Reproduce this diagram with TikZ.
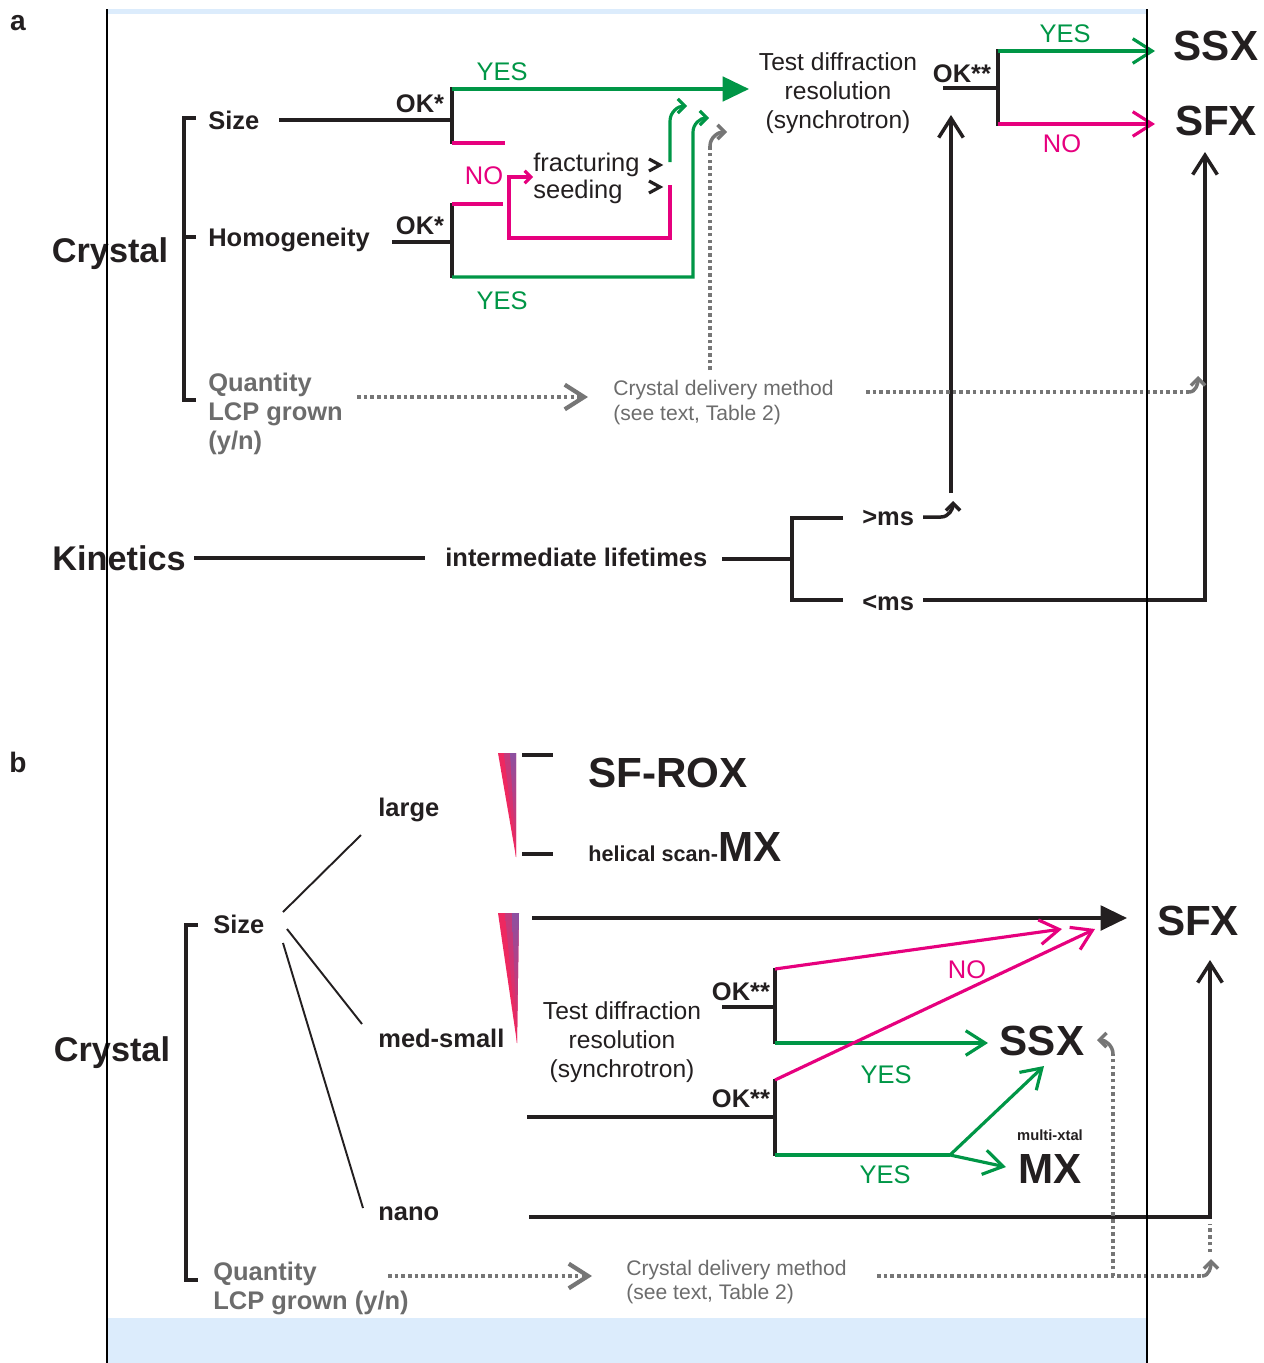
\documentclass[tikz,border=0pt]{standalone}
\usepackage{fontspec}
\setmainfont{Liberation Sans}
\usetikzlibrary{arrows.meta}

\definecolor{ink}{RGB}{35,31,32}
\definecolor{yesgreen}{RGB}{0,150,70}
\definecolor{nopink}{RGB}{230,0,126}
\definecolor{dotgray}{RGB}{118,118,118}
\definecolor{textgray}{RGB}{108,108,108}
\definecolor{bandblue}{RGB}{220,236,252}
\definecolor{wedgepink}{RGB}{238,40,96}
\definecolor{wedgepurple}{RGB}{140,80,160}

\begin{document}
\begin{tikzpicture}[
    x=0.02cm, y=-0.02cm,
    every node/.style={inner sep=0pt, text=ink},
    lbl/.style={font=\fontsize{14.5}{17}\selectfont\bfseries, anchor=base west},
    lblc/.style={lbl, anchor=base},
    bigname/.style={font=\fontsize{24}{28}\selectfont\bfseries, anchor=base},
    mainlbl/.style={font=\fontsize{19.5}{23}\selectfont\bfseries, anchor=base},
    panel/.style={font=\fontsize{16}{18}\selectfont\bfseries, anchor=base},
    testtxt/.style={font=\fontsize{14}{16.3}\selectfont, align=center},
    plaintxt/.style={font=\fontsize{14.5}{17}\selectfont, anchor=base west},
    yeslbl/.style={font=\fontsize{14.5}{17}\selectfont, text=yesgreen, anchor=base},
    nolbl/.style={font=\fontsize{14.5}{17}\selectfont, text=nopink, anchor=base},
    qty/.style={lbl, text=textgray},
    deliv/.style={font=\fontsize{12}{14}\selectfont, text=textgray, anchor=base west},
    wire/.style={draw=ink, line width=2pt},
    thinwire/.style={draw=ink, line width=1.1pt},
    chev/.style={draw=ink, line width=1.8pt},
    yesline/.style={draw=yesgreen, line width=1.8pt},
    noline/.style={draw=nopink, line width=1.8pt},
    dotline/.style={draw=dotgray, line width=2.4pt, dash pattern=on 2pt off 1.8pt},
    dotcurl/.style={draw=dotgray, line width=2pt, -{Straight Barb[length=4pt, width=8pt]}},
    bigtip/.style={-{Triangle[length=15pt, width=14pt]}},
    barbtip/.style={-{Straight Barb[length=11pt, width=14pt]}},
    curltip/.style={-{Straight Barb[length=4pt, width=8pt]}},
  ]
  \useasboundingbox (0,0) rectangle (1264,1363);
  \fill[bandblue] (108,9) rectangle (1147,14);
  \fill[bandblue] (108,1318) rectangle (1147,1363);

  % --- Panel a: crystal properties ---
  \node[panel] (labA) at (18,30) {a};
  \node[mainlbl] (crysA) at (110,262) {Crystal};
  \draw[wire] (196,118) -- (184,118) -- (184,400) -- (196,400);
  \draw[wire] (184,237) -- (196,237);
  \node[lbl] (sizeA) at (208,129) {Size};
  \node[lbl] (homA) at (208,246) {Homogeneity};
  \node[qty] (qtyA) at (208,391) {Quantity};
  \node[qty] (lcpA) at (208,420) {LCP grown};
  \node[qty] (ynA) at (208,449) {(y/n)};

  % size and homogeneity checks
  \coordinate (jA1) at (452,120);
  \coordinate (jA2) at (452,242);
  \node[lblc] (okA1) at (420,112) {OK*};
  \node[lblc] (okA2) at (420,234) {OK*};
  \draw[wire] (279,120) -- (jA1);
  \draw[wire] (452,87) -- (452,144);
  \draw[wire] (392,242) -- (jA2);
  \draw[wire] (452,203) -- (452,278);
  \draw[yesline, bigtip] (452,89) -- (749,89);
  \node[yeslbl] (yesA1) at (502,80) {YES};
  \draw[noline] (452,143) -- (505,143);
  \draw[noline] (452,204) -- (503,204);
  \node[nolbl] (noA) at (484,184) {NO};
  \draw[noline, -{Straight Barb[length=3.5pt, width=7pt]}]
    (670,185) -- (670,238) -- (509,238) -- (509,177) -- (533,177);
  \node[plaintxt] (fracA) at (533,171) {fracturing};
  \node[plaintxt] (seedA) at (533,198) {seeding};
  \draw[chev] (649,159) -- (660,165) -- (649,171);
  \draw[chev] (649,181) -- (660,187) -- (649,193);
  \draw[yesline, curltip] (670,162) -- (670,121) to[out=90, in=180] (687,106);
  \draw[yesline, curltip] (452,277) -- (693,277) -- (693,132) to[out=90, in=180] (709,118);
  \node[yeslbl] (yesA2) at (502,309) {YES};
  \coordinate (curlA1) at (710,146);
  \draw[dotline] (710,370) -- (curlA1);
  \draw[dotcurl] (curlA1) to[out=90, in=180] (727,132);

  % --- Panel a: diffraction test ---
  \node[testtxt] (testA) at (838,93) {Test diffraction\\resolution\\(synchrotron)};
  \node[lblc] (okA3) at (962,82) {OK**};
  \draw[wire] (943,88) -- (998,88);
  \draw[wire] (998,49) -- (998,126);
  \draw[yesline, barbtip] (998,51) -- (1155,51);
  \node[yeslbl] (yesA3) at (1065,42) {YES};
  \draw[noline, barbtip] (998,124) -- (1155,124);
  \node[nolbl] (noA3) at (1062,152) {NO};
  \node[bigname] (ssxA) at (1216,60) {SSX};
  \node[bigname] (sfxA) at (1216,135) {SFX};

  % --- Panel a: kinetics ---
  \node[mainlbl, anchor=base west] (kinA) at (52,570) {Kinetics};
  \node[lbl] (lifeA) at (445,566) {intermediate lifetimes};
  \draw[wire] (194,558) -- (425,558);
  \draw[wire] (722,559) -- (792,559);
  \draw[wire] (843,518) -- (792,518) -- (792,600) -- (843,600);
  \node[lbl] (slowA) at (862,525) {>ms};
  \node[lbl] (fastA) at (862,610) {<ms};
  \draw[wire, curltip] (923,517) -- (941,517) to[out=0, in=-90] (953,501);
  \draw[wire, barbtip] (951,493) -- (951,115);
  \draw[wire, barbtip] (923,600) -- (1205,600) -- (1205,152);

  % --- Panel a: delivery ---
  \draw[dotline, barbtip] (357,397) -- (588,397);
  \node[deliv] (delA1) at (613,395) {Crystal delivery method};
  \node[deliv] (delA2) at (613,420) {(see text, Table 2)};
  \coordinate (curlA2) at (1189,392);
  \draw[dotline] (866,392) -- (curlA2);
  \draw[dotcurl] (curlA2) to[out=0, in=-90] (1198,376);

  % --- Panel b: crystal size ---
  \node[panel] (labB) at (18,772) {b};
  \node[mainlbl] (crysB) at (112,1061) {Crystal};
  \draw[wire] (198,925) -- (186,925) -- (186,1280) -- (198,1280);
  \node[lbl] (sizeB) at (213,933) {Size};
  \node[lbl] (largeB) at (378,816) {large};
  \node[lbl] (medB) at (378,1047) {med-small};
  \node[lbl] (nanoB) at (378,1220) {nano};
  \draw[thinwire] (283,912) -- (361,835);
  \draw[thinwire] (287,929) -- (362,1024);
  \draw[thinwire] (283,943) -- (363,1208);

  % size wedges: pink left, purple towards the top right
  \foreach \ya/\yb/\xa/\xb/\xt in {753/857/498/516/516, 913/1043/498/519/517} {
    \pgfmathsetmacro\xm{\xa+(\xb-\xa)/3}
    \pgfmathsetmacro\xn{\xa+2*(\xb-\xa)/3}
    \fill[wedgepink] (\xa,\ya) -- (\xb,\ya) -- (\xt,\yb) -- cycle;
    \shade[top color=wedgepink!55!wedgepurple, bottom color=wedgepink]
      (\xm,\ya) -- (\xn+0.6,\ya) -- (\xt,\yb) -- cycle;
    \shade[top color=wedgepurple, bottom color=wedgepink]
      (\xn,\ya) -- (\xb,\ya) -- (\xt,\yb) -- cycle;
  }
  \draw[wire] (522,755) -- (553,755);
  \draw[wire] (522,854) -- (553,854);
  \node[bigname, anchor=base west] (roxB) at (588,787) {SF-ROX};
  \node[anchor=base west] (helB) at (588,861)
    {\fontsize{12.3}{14}\selectfont\bfseries helical scan-\fontsize{24}{28}\selectfont MX};
  \draw[wire, bigtip] (532,918) -- (1127,918);
  \node[bigname] (sfxB) at (1198,935) {SFX};
  \draw[wire, barbtip] (529,1217) -- (1210,1217) -- (1210,960);

  % --- Panel b: diffraction test ---
  \node[testtxt] (testB) at (622,1042) {Test diffraction\\resolution\\(synchrotron)};
  \node[lblc] (okB1) at (741,1000) {OK**};
  \draw[wire] (722,1007) -- (775,1007);
  \draw[wire] (775,968) -- (775,1044);
  \node[lblc] (okB2) at (741,1107) {OK**};
  \draw[wire] (527,1117) -- (775,1117);
  \draw[wire] (775,1079) -- (775,1156);
  \draw[yesline, barbtip] (775,1043) -- (988,1043);
  \node[yeslbl] (yesB1) at (886,1083) {YES};
  \draw[yesline] (775,1155) -- (950,1155);
  \draw[yesline, barbtip] (950,1155) -- (1044,1066);
  \draw[yesline, barbtip] (950,1155) -- (1006,1167);
  \node[yeslbl] (yesB2) at (885,1183) {YES};
  \draw[noline, barbtip] (775,969) -- (1062,929);
  \draw[noline, barbtip] (775,1080) -- (1095,929);
  \node[nolbl] (noB) at (967,978) {NO};
  \node[bigname] (ssxB) at (1042,1055) {SSX};
  \node[font=\fontsize{8.4}{10}\selectfont\bfseries, anchor=base] (multiB) at (1050,1140) {multi-xtal};
  \node[bigname] (mxB) at (1050,1183) {MX};

  % --- Panel b: delivery ---
  \node[qty] (qtyB) at (213,1280) {Quantity};
  \node[qty] (lcpB) at (213,1309) {LCP grown (y/n)};
  \draw[dotline, barbtip] (388,1276) -- (592,1276);
  \node[deliv] (delB1) at (626,1275) {Crystal delivery method};
  \node[deliv] (delB2) at (626,1299) {(see text, Table 2)};
  \coordinate (curlB1) at (1202,1276);
  \coordinate (curlB2) at (1113,1054);
  \draw[dotline] (877,1276) -- (curlB1);
  \draw[dotcurl] (curlB1) to[out=0, in=-90] (1211,1259);
  \draw[dotline] (1210,1252) -- (1210,1224);
  \draw[dotline] (1113,1276) -- (curlB2);
  \draw[dotcurl] (curlB2) to[out=90, in=0] (1097,1040);

  % page frame lines
  \draw[line width=0.6pt] (107,9) -- (107,1363);
  \draw[line width=0.6pt] (1147,9) -- (1147,1363);
\end{tikzpicture}
\end{document}
